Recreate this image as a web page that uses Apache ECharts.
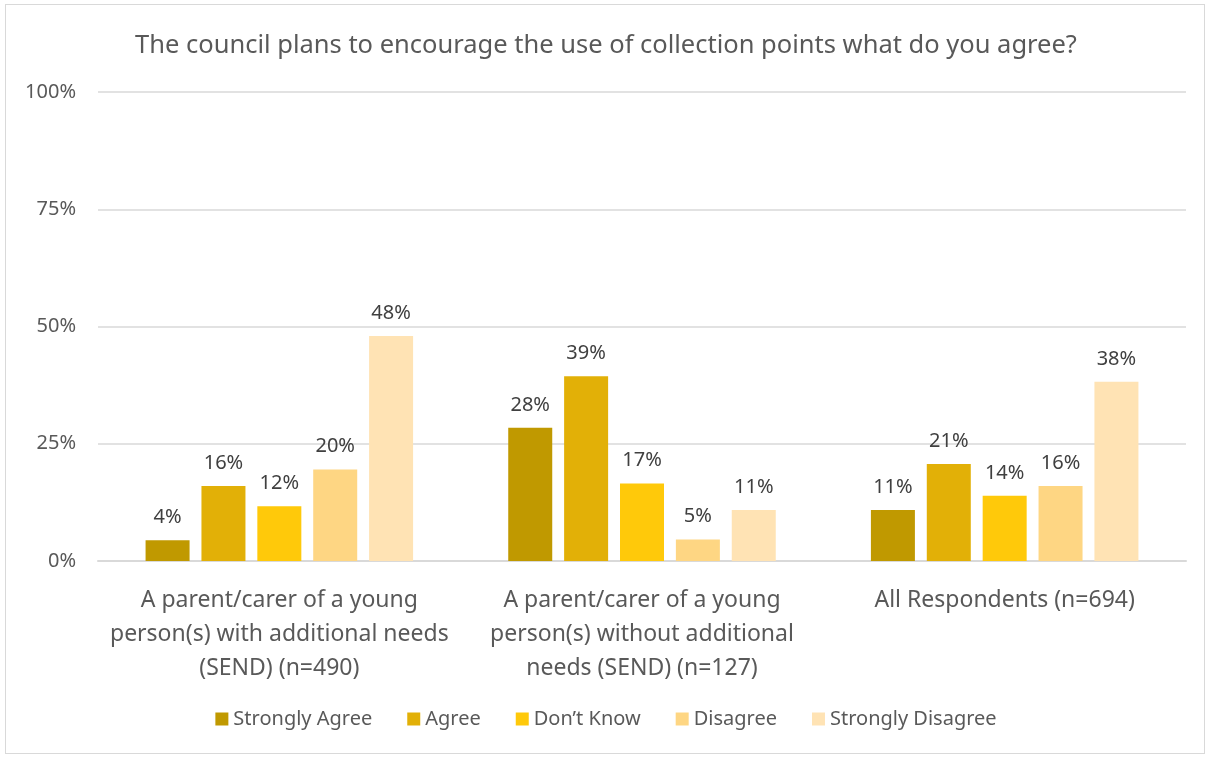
<!DOCTYPE html>
<html>
<head>
<meta charset="utf-8">
<script src="https://cdn.jsdelivr.net/npm/echarts@6/dist/echarts.min.js"></script>
<style>
  html, body { margin: 0; padding: 0; background: #ffffff; }
  #frame { position: absolute; left: 5px; top: 4px; width: 1200px; height: 750px; border: 1px solid #d9d9d9; box-sizing: border-box; }
  #chart { position: absolute; left: 0; top: 0; width: 1212px; height: 758px; }
</style>
</head>
<body>
<div id="frame"></div>
<div id="chart"></div>
<script>
// Respondent groups (x axis categories)
const categories = [
  'A parent/carer of a young\nperson(s) with additional needs\n(SEND) (n=490)',
  'A parent/carer of a young\nperson(s) without additional\nneeds (SEND) (n=127)',
  'All Respondents (n=694)'
];

// Answer options
const seriesNames = ['Strongly Agree', 'Agree', 'Don\u2019t Know', 'Disagree', 'Strongly Disagree'];
const seriesColors = ['#C09900', '#E2B007', '#FFC90A', '#FED683', '#FFE3B4'];

// Share of responses (%) per answer, one value per respondent group
const stronglyAgree    = [4.4, 28.4, 10.9];
const agree            = [16.0, 39.4, 20.7];
const dontKnow         = [11.7, 16.5, 13.9];
const disagree         = [19.5, 4.6, 16.0];
const stronglyDisagree = [48.0, 10.9, 38.2];

// Value axis ticks
const yTicks = [0, 25, 50, 75, 100];

const seriesValues = [stronglyAgree, agree, dontKnow, disagree, stronglyDisagree];
const fontFamily = 'Noto Sans, Open Sans, sans-serif';

const chart = echarts.init(document.getElementById('chart'), null, { renderer: 'canvas' });

chart.setOption({
  animation: false,
  backgroundColor: 'transparent',
  title: {
    text: 'The council plans to encourage the use of collection points what do you agree?',
    left: 'center',
    top: 28,
    textStyle: { fontFamily, fontSize: 25.5, fontWeight: 'normal', color: '#595959' }
  },
  legend: {
    data: seriesNames,
    bottom: 24,
    left: 'center',
    itemWidth: 13,
    itemHeight: 13,
    itemGap: 35,
    icon: 'rect',
    textStyle: { fontFamily, fontSize: 20, color: '#595959' }
  },
  grid: { left: 98, right: 26, top: 92, bottom: 197, containLabel: false },
  xAxis: {
    type: 'category',
    data: categories,
    axisLine: { show: true, lineStyle: { color: '#d9d9d9', width: 2 } },
    axisTick: { show: false },
    axisLabel: {
      fontFamily, fontSize: 23, color: '#595959', margin: 22, lineHeight: 34,
      interval: 0
    }
  },
  yAxis: {
    type: 'value',
    min: yTicks[0],
    max: yTicks[yTicks.length - 1],
    interval: yTicks[1] - yTicks[0],
    axisLine: { show: false },
    axisTick: { show: false },
    splitLine: { lineStyle: { color: '#d9d9d9', width: 1.5 } },
    axisLabel: {
      fontFamily, fontSize: 20, color: '#595959', margin: 22,
      formatter: v => v + '%'
    }
  },
  series: seriesNames.map((name, i) => ({
    name,
    type: 'bar',
    data: seriesValues[i],
    barWidth: 44,
    barGap: '27%',
    itemStyle: { color: seriesColors[i] },
    label: {
      show: true,
      position: 'top',
      distance: 13,
      fontFamily, fontSize: 20, color: '#404040',
      formatter: p => Math.round(p.value) + '%'
    }
  }))
});
</script>
</body>
</html>
